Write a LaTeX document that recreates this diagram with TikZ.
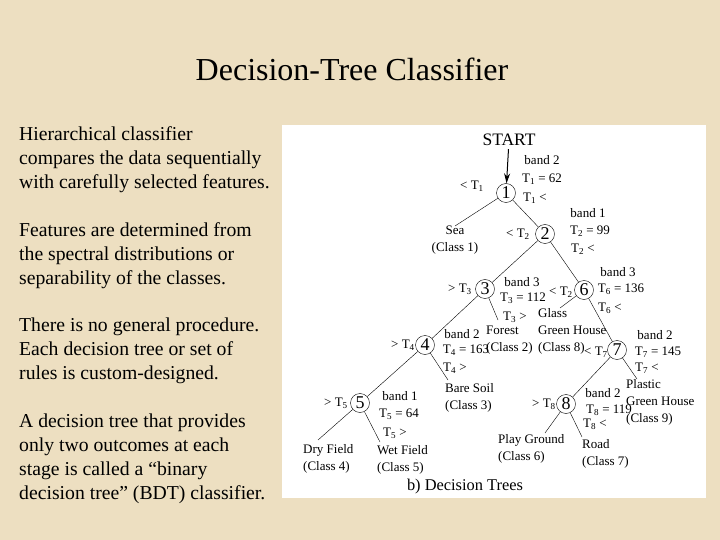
\documentclass[tikz,border=0pt]{standalone}
\usepackage{fontspec}
\setmainfont{Liberation Serif}
\usetikzlibrary{calc,arrows.meta}
\definecolor{parchment}{HTML}{EDDFC1}
\newcommand{\thr}[1]{T\textsubscript{#1}}

\begin{document}
\begin{tikzpicture}[x=1pt,y=-1pt,>={Stealth[length=10pt,width=6pt]},
    lbl/.style={font=\fontsize{13}{15}\selectfont,inner sep=0pt},
    leaf/.style={font=\fontsize{13}{17}\selectfont,inner sep=0pt,align=left,anchor=north west},
    num/.style={draw,circle,minimum size=19pt,inner sep=0pt,font=\fontsize{18}{18}\selectfont},
    para/.style={font=\fontsize{19.7}{24}\selectfont,inner sep=0pt,align=left,anchor=north west}]
    \useasboundingbox (0,0) rectangle (720,540);
    \fill[parchment] (0,0) rectangle (720,540);
    \fill[white] (282,125) rectangle (706,498);

    \node (title) [font=\fontsize{32}{34}\selectfont] at (352,69) {Decision-Tree Classifier};

    % left column
    \node (p1) [para] at (19,126) {Hierarchical classifier\\compares the data sequentially\\with carefully selected features.};
    \node (p2) [para] at (19,222) {Features are determined from\\the spectral distributions or\\separability of the classes.};
    \node (p3) [para] at (19,318) {There is no general procedure.\\Each decision tree or set of\\rules is custom-designed.};
    \node (p4) [para] at (19,414) {A decision tree that provides\\only two outcomes at each\\stage is called a ``binary\\decision tree'' (BDT) classifier.};

    % tree
    \node (start) [font=\fontsize{17.5}{18}\selectfont,inner sep=0pt] at (509,140) {START};
    \node (n1) [num] at (506,193) {1};
    \node (n2) [num] at (545,234) {2};
    \node (n3) [num] at (485,289) {3};
    \node (n6) [num] at (584,290) {6};
    \node (n4) [num] at (425,345) {4};
    \node (n7) [num] at (617,350) {7};
    \node (n5) [num] at (360,403) {5};
    \node (n8) [num] at (566,404) {8};

    \node (sea) [leaf,align=center,anchor=north] at (455,226) {Sea\\(Class 1)};
    \node (forest) [leaf] at (486,326) {Forest\\(Class 2)};
    \node (glass) [leaf] at (538,308) {Glass\\Green House\\(Class 8)};
    \node (baresoil) [leaf] at (445,383) {Bare Soil\\(Class 3)};
    \node (plastic) [leaf] at (626,379) {Plastic\\Green House\\(Class 9)};
    \node (dryfield) [leaf] at (303,444) {Dry Field\\(Class 4)};
    \node (wetfield) [leaf] at (377,445) {Wet Field\\(Class 5)};
    \node (playground) [leaf] at (498,434) {Play Ground\\(Class 6)};
    \node (road) [leaf] at (582,439) {Road\\(Class 7)};

    \node (c1) [lbl] at (472,186) {< \thr{1}};
    \node (b1) [lbl] at (542,160) {band 2};
    \node (v1) [lbl] at (542,179) {\thr{1} = 62};
    \node (r1) [lbl] at (535,198) {\thr{1} <};

    \node (c2) [lbl] at (518,234) {< \thr{2}};
    \node (b2) [lbl] at (588,213) {band 1};
    \node (v2) [lbl] at (590,231) {\thr{2} = 99};
    \node (r2) [lbl] at (583,249) {\thr{2} <};

    \node (c3) [lbl] at (460,289) {> \thr{3}};
    \node (b3) [lbl] at (522,282) {band 3};
    \node (v3) [lbl] at (523,298) {\thr{3} = 112};
    \node (r3) [lbl] at (515,317) {\thr{3} >};

    \node (c6) [lbl] at (561,292) {< \thr{2}};
    \node (b6) [lbl] at (618,272) {band 3};
    \node (v6) [lbl] at (621,289) {\thr{6} = 136};
    \node (r6) [lbl] at (610,308) {\thr{6} <};

    \node (c4) [lbl] at (403,345) {> \thr{4}};
    \node (b4) [lbl] at (462,334) {band 2};
    \node (v4) [lbl] at (466,350) {\thr{4} = 163};
    \node (r4) [lbl] at (455,368) {\thr{4} >};

    \node (c7) [lbl] at (596,352) {< \thr{7}};
    \node (b7) [lbl] at (655,335) {band 2};
    \node (v7) [lbl] at (658,352) {\thr{7} = 145};
    \node (r7) [lbl] at (647,368) {\thr{7} <};

    \node (c5) [lbl] at (336,403) {> \thr{5}};
    \node (b5) [lbl] at (400,396) {band 1};
    \node (v5) [lbl] at (399,414) {\thr{5} = 64};
    \node (r5) [lbl] at (395,433) {\thr{5} >};

    \node (c8) [lbl] at (544,404) {> \thr{8}};
    \node (b8) [lbl] at (603,393) {band 2};
    \node (v8) [lbl] at (609,410) {\thr{8} = 119};
    \node (r8) [lbl] at (595,424) {\thr{8} <};

    \node (caption) [font=\fontsize{16.4}{17}\selectfont,inner sep=0pt] at (465,487) {b) Decision Trees};

    % branches
    \draw[->,line width=1pt,shorten <=3pt] (start) -- (n1);
    \draw (n1) -- (sea.north);
    \draw (n1) -- (n2);
    \draw (n2) -- (n3);
    \draw (n2) -- (n6);
    \draw (n3) -- (n4);
    \draw (n3) -- ($(forest.north west)+(12,-6)$);
    \draw (n6) -- ($(glass.north west)+(22,0)$);
    \draw (n6) -- (n7);
    \draw (n4) -- (n5);
    \draw (n4) -- ($(baresoil.north west)+(3,-3)$);
    \draw (n7) -- (n8);
    \draw (n7) -- ($(plastic.north west)+(11,0)$);
    \draw (n5) -- ($(dryfield.north west)+(15,-4)$);
    \draw (n5) -- ($(wetfield.north west)+(3,-3)$);
    \draw (n8) -- ($(playground.north west)+(47,-1)$);
    \draw (n8) -- ($(road.north west)+(0,-2)$);
\end{tikzpicture}
\end{document}
